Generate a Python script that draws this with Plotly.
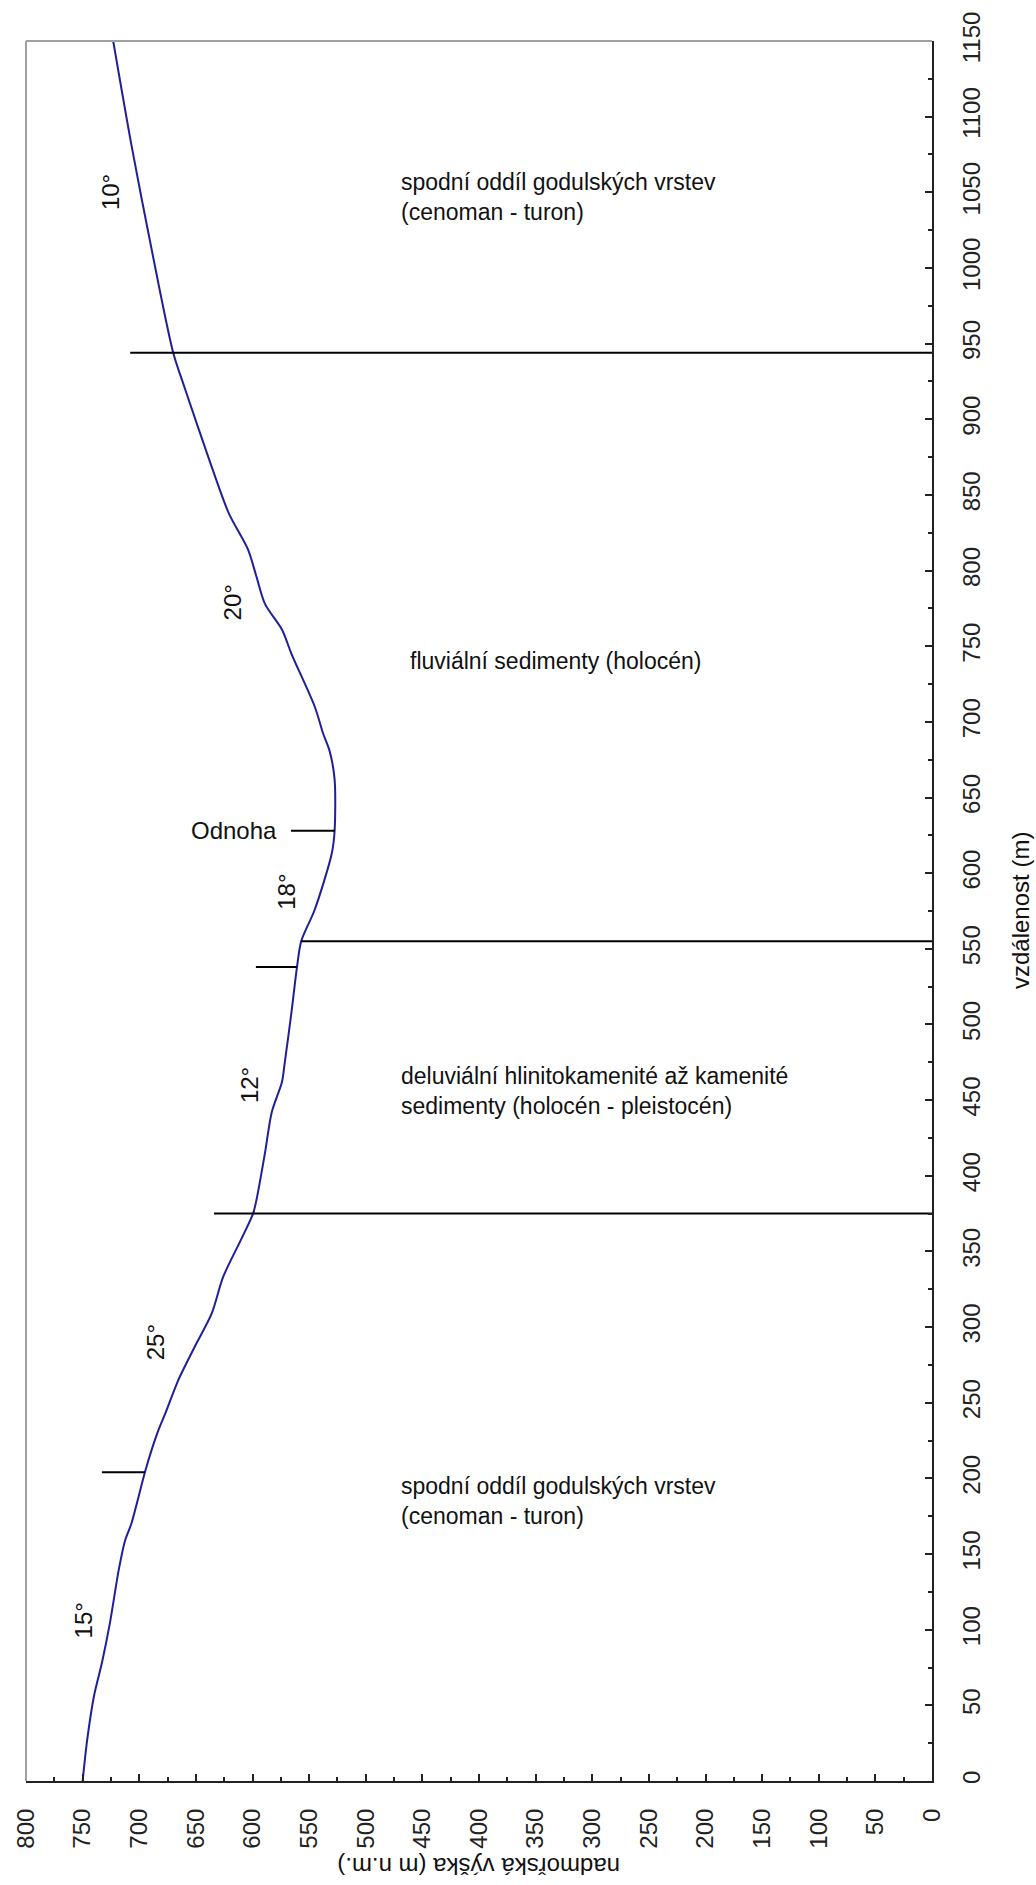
import plotly.graph_objects as go

# Terrain profile: distance along the section (m) and elevation (m n.m.)
distance = [0, 27, 56, 78, 104, 140, 159, 170, 204, 219, 232, 243, 265, 287, 309,
            333, 358, 375, 384, 415, 442, 462, 475, 508, 538, 555, 576, 613, 628,
            662, 681, 692, 710, 745, 761, 778, 796, 814, 838, 875, 921, 944, 1012,
            1080, 1150]
elevation = [750, 746, 740, 733, 726, 718, 712.5, 707, 695, 689, 683, 677, 665.5, 651, 636,
             626, 610, 599.5, 596.5, 589, 583, 574, 571.5, 565.6, 560.7, 557, 545, 530, 527.5,
             527.5, 532, 537.5, 545, 565.6, 574, 589, 596.5, 604, 621, 639, 660, 670, 689,
             706.6, 723]

# Geological boundaries: distance and the elevation where the boundary line begins
boundary_dist = [375, 555, 944]
boundary_from_elev = [634, 557, 708]

# Short markers: distance, outer and inner elevation
marker_dist = [204, 538, 628]
marker_outer = [733, 597, 566]
marker_inner = [695, 560.7, 527.5]

# Slope labels
slope_text = ["15°", "25°", "12°", "18°", "20°", "10°"]
slope_dist = [106, 290, 460, 588, 779, 1050]
slope_elev = [749, 686, 603, 570, 618, 726]

# Unit descriptions
unit_text = [
    "spodní oddíl godulských vrstev<br>(cenoman - turon)",
    "fluviální sedimenty (holocén)",
    "deluviální hlinitokamenité až kamenité<br>sedimenty (holocén - pleistocén)",
    "spodní oddíl godulských vrstev<br>(cenoman - turon)",
]
unit_dist = [1047, 740, 456, 185]
unit_elev = [471, 463, 471, 471]

elev_ticks = list(range(0, 801, 50))
dist_ticks = list(range(0, 1151, 50))

FONT = "Arial, Liberation Sans, sans-serif"
W, H = 1036, 1885
L, R, T, B = 24, 104, 41, 104

fig = go.Figure()

fig.add_trace(go.Scatter(x=elevation, y=distance, mode="lines",
                         line=dict(color="#1f1f99", width=2, shape="spline", smoothing=0.8),
                         hoverinfo="skip"))

for d, e0 in zip(boundary_dist, boundary_from_elev):
    fig.add_trace(go.Scatter(x=[e0, 0], y=[d, d], mode="lines",
                             line=dict(color="black", width=2), hoverinfo="skip"))

for d, e1, e2 in zip(marker_dist, marker_outer, marker_inner):
    fig.add_trace(go.Scatter(x=[e1, e2], y=[d, d], mode="lines",
                             line=dict(color="black", width=2), hoverinfo="skip"))

annotations = []
for t, d, e in zip(slope_text, slope_dist, slope_elev):
    annotations.append(dict(x=e, y=d, xref="x", yref="y", text=t, showarrow=False,
                            textangle=-90, font=dict(size=24, color="#111", family=FONT)))

for t, d, e in zip(unit_text, unit_dist, unit_elev):
    annotations.append(dict(x=e, y=d, xref="x", yref="y", text=t, showarrow=False,
                            xanchor="left", align="left",
                            font=dict(size=23, color="#111", family=FONT)))

annotations.append(dict(x=marker_outer[2], y=marker_dist[2], xref="x", yref="y",
                        text="Odnoha", showarrow=False, xanchor="right", xshift=-12,
                        font=dict(size=24, color="#111", family=FONT)))

# Axis titles
annotations.append(dict(x=0.5, y=0, yshift=-86, xref="paper", yref="paper",
                        xanchor="center", yanchor="middle",
                        text="nadmořská výška (m n.m.)", showarrow=False, textangle=180,
                        font=dict(size=24, color="#111", family=FONT)))
annotations.append(dict(x=1.0, xshift=88, y=0.5, xref="paper", yref="paper",
                        xanchor="center", yanchor="middle",
                        text="vzdálenost (m)", showarrow=False, textangle=-90,
                        font=dict(size=24, color="#111", family=FONT)))

fig.update_layout(
    width=W, height=H,
    margin=dict(l=L, r=R, t=T, b=B),
    paper_bgcolor="white", plot_bgcolor="white",
    showlegend=False,
    annotations=annotations,
    xaxis=dict(range=[800, 0], tickvals=elev_ticks, ticks="inside", ticklen=7,
               tickwidth=2, tickcolor="#222", tickangle=-90, ticklabelstandoff=16,
               showline=True, linecolor="#222", linewidth=2, showgrid=False,
               zeroline=False, tickfont=dict(size=24, family=FONT, color="#222"),
               minor=dict(dtick=25, tick0=0, ticks="inside", ticklen=4,
                          tickwidth=2, tickcolor="#222")),
    yaxis=dict(range=[0, 1150], tickvals=dist_ticks, side="right", ticks="inside",
               ticklen=7, tickwidth=2, tickcolor="#222", tickangle=-90,
               ticklabelstandoff=17,
               showline=True, linecolor="#222", linewidth=2, showgrid=False,
               zeroline=False, tickfont=dict(size=24, family=FONT, color="#222"),
               minor=dict(dtick=25, tick0=0, ticks="inside", ticklen=4,
                          tickwidth=2, tickcolor="#222")),
    shapes=[
        dict(type="line", xref="paper", yref="paper", x0=0, x1=0, y0=0, y1=1,
             line=dict(color="#a0a0a0", width=2)),
        dict(type="line", xref="paper", yref="paper", x0=0, x1=1, y0=1, y1=1,
             line=dict(color="#a0a0a0", width=2)),
    ],
)

fig.write_html("out.html")
